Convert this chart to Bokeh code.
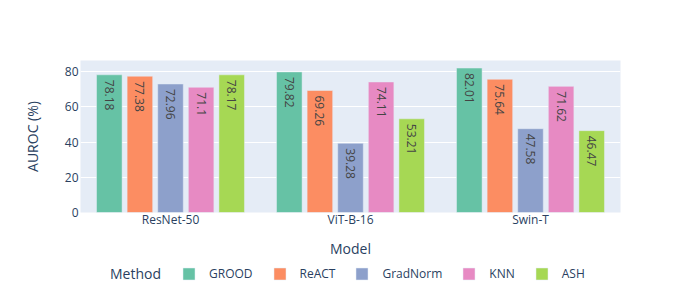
import math
from bokeh.plotting import figure
from bokeh.layouts import column
from bokeh.models import FactorRange, Range1d, Legend, LegendItem, ColumnDataSource
from bokeh.core.properties import value
from bokeh.transform import dodge
from bokeh.embed import file_html
from bokeh.resources import INLINE

models = ["ResNet-50", "ViT-B-16", "Swin-T"]
methods = ["GROOD", "ReACT", "GradNorm", "KNN", "ASH"]
grood = [78.18, 79.82, 82.01]
react = [77.38, 69.26, 75.64]
gradnorm = [72.96, 39.28, 47.58]
knn = [71.1, 74.11, 71.62]
ash = [78.17, 53.21, 46.47]
colors = ["#66c2a5", "#fc8d62", "#8da0cb", "#e78ac3", "#a6d854"]
y_ticks = [0, 20, 40, 60, 80]
legend_title = "Method"

series = [grood, react, gradnorm, knn, ash]
FONT = "Open Sans"
TXT = "#2a3f5f"
BAR_LINE = "#E5ECF6"

p = figure(x_range=FactorRange(*models), y_range=Range1d(0, 86.3),
           width=684, height=260, output_backend="svg", toolbar_location=None,
           min_border_left=80, min_border_right=64, min_border_top=60, min_border_bottom=48)
p.background_fill_color = "#E5ECF6"
p.border_fill_color = "white"
p.outline_line_color = None

n = len(methods)
for i, (m, vals, c) in enumerate(zip(methods, series, colors)):
    off = (i - (n - 1) / 2) * 0.17
    src = ColumnDataSource(dict(model=models, v=vals, lab=[str(v) for v in vals]))
    p.vbar(x=dodge("model", off, range=p.x_range), top="v", width=0.142, source=src,
           fill_color=c, line_color=BAR_LINE, line_width=0.5)
    p.text(x=dodge("model", off, range=p.x_range), y="v", text="lab", source=src,
           angle=-math.pi / 2, text_align="left", text_baseline="middle", y_offset=5,
           text_font=value(FONT), text_font_size="12px", text_color="#444444")

p.xgrid.grid_line_color = None
p.ygrid.grid_line_color = "white"
p.ygrid.grid_line_width = 1
p.yaxis.ticker = y_ticks

for ax in (p.xaxis[0], p.yaxis[0]):
    ax.axis_line_color = None
    ax.major_tick_line_color = None
    ax.minor_tick_line_color = None
    ax.major_tick_out = 0
    ax.major_tick_in = 0
    ax.minor_tick_out = 0
    ax.minor_tick_in = 0
    ax.major_label_text_font = FONT
    ax.major_label_text_font_size = "12px"
    ax.major_label_text_color = TXT
    ax.axis_label_text_font = FONT
    ax.axis_label_text_font_size = "14px"
    ax.axis_label_text_font_style = "normal"
    ax.axis_label_text_color = TXT

p.xaxis.axis_label = "Model"
p.yaxis.axis_label = "AUROC (%)"
p.xaxis.major_label_standoff = -2
p.xaxis.axis_label_standoff = 8
p.yaxis.major_label_standoff = 2
p.yaxis.axis_label_standoff = 20

# legend strip below the chart (its frame is aligned with the chart's frame)
lf = figure(width=684, height=24, output_backend="svg", toolbar_location=None,
            x_range=Range1d(0, 1), y_range=Range1d(0, 1), x_axis_type=None, y_axis_type=None,
            min_border=0)
lf.outline_line_color = None
lf.grid.visible = False
lf.background_fill_color = "white"
lf.border_fill_color = "white"

# legend-only renderers, kept outside the visible range of the strip
title_r = lf.vbar(x=[-5], top=[0], width=0.1, fill_alpha=0, line_alpha=0)
items = []
for m, c in zip(methods, colors):
    r = lf.vbar(x=[-5], top=[0], width=0.1, fill_color=c, line_color=BAR_LINE, line_width=0.5)
    items.append(LegendItem(label=m, renderers=[r]))

leg_title = Legend(items=[LegendItem(label=legend_title, renderers=[title_r])],
                   location=(30, 1), glyph_width=0, glyph_height=15, label_standoff=0,
                   padding=0, margin=0, border_line_color=None, background_fill_alpha=0,
                   label_text_font=FONT, label_text_font_size="14px", label_text_color=TXT,
                   label_height=20, label_width=10)
leg = Legend(items=items, orientation="horizontal", location=(101, 1),
             glyph_width=15, glyph_height=15, label_standoff=13, spacing=19,
             padding=0, margin=0, border_line_color=None, background_fill_alpha=0,
             label_text_font=FONT, label_text_font_size="12px", label_text_color=TXT,
             label_height=20, label_width=10)
lf.add_layout(leg_title, "center")
lf.add_layout(leg, "center")

layout = column(p, lf, spacing=0)
open("out.html", "w").write(file_html(layout, INLINE))
